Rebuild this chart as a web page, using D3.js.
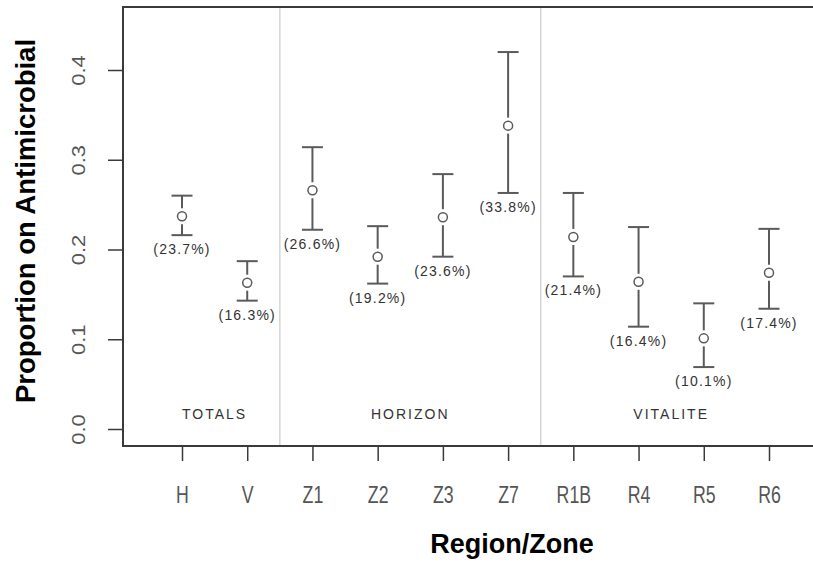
<!DOCTYPE html>
<html>
<head>
<meta charset="utf-8">
<script src="https://cdn.jsdelivr.net/npm/d3@7"></script>
<style>
  body { margin: 0; background: #fff; }
  text { font-family: "Liberation Sans", Arial, sans-serif; }
</style>
</head>
<body>
<div id="plot"></div>
<script>
// data
var zones = ["H", "V", "Z1", "Z2", "Z3", "Z7", "R1B", "R4", "R5", "R6"];
var means = [0.237, 0.163, 0.266, 0.192, 0.236, 0.338, 0.214, 0.164, 0.101, 0.174];
var upper = [0.260, 0.187, 0.314, 0.226, 0.284, 0.420, 0.263, 0.225, 0.140, 0.223];
var lower = [0.216, 0.143, 0.222, 0.162, 0.192, 0.263, 0.170, 0.114, 0.069, 0.134];
var pctLabels = ["(23.7%)", "(16.3%)", "(26.6%)", "(19.2%)", "(23.6%)", "(33.8%)", "(21.4%)", "(16.4%)", "(10.1%)", "(17.4%)"];
var groups = ["TOTALS", "HORIZON", "VITALITE"];
var groupMembers = [["H", "V"], ["Z1", "Z2", "Z3", "Z7"], ["R1B", "R4", "R5", "R6"]];
var yTicks = [0.0, 0.1, 0.2, 0.3, 0.4];

var W = 813, H = 563;
var box = {left: 123, top: 7, right: 830, bottom: 446};

var svg = d3.select("#plot")
            .append("svg")
            .attr("width", W)
            .attr("height", H);

var xScale = d3.scalePoint()
               .domain(zones)
               .range([182, 769]);
var yScale = d3.scaleLinear()
               .domain([0, 0.4])
               .range([429, 70]);

var data = zones.map((z, i) => ({zone: z, mean: means[i], hi: upper[i], lo: lower[i], label: pctLabels[i]}));

// group separators
var seps = [];
for (var g = 0; g < groupMembers.length - 1; g++) {
    var last = groupMembers[g][groupMembers[g].length - 1];
    var next = groupMembers[g + 1][0];
    seps.push((xScale(last) + xScale(next)) / 2);
}
svg.selectAll(".sep")
   .data(seps)
   .enter()
   .append("line")
   .attr("x1", d => d).attr("x2", d => d)
   .attr("y1", box.top).attr("y2", box.bottom)
   .attr("stroke", "#d4d4d4")
   .attr("stroke-width", 1.5);

// box (left, top, bottom)
svg.append("path")
   .attr("d", "M" + box.right + "," + box.top + "H" + box.left + "V" + box.bottom + "H" + box.right)
   .attr("fill", "none")
   .attr("stroke", "#3a3a3a")
   .attr("stroke-width", 2);

// y axis
var yAxis = svg.append("g")
               .attr("transform", "translate(" + box.left + ",0)")
               .call(d3.axisLeft(yScale).tickValues(yTicks).tickSize(15).tickFormat(d3.format(".1f")));
yAxis.select(".domain").remove();
yAxis.selectAll(".tick line").attr("stroke", "#3a3a3a").attr("stroke-width", 1.5);
yAxis.selectAll(".tick text")
     .attr("x", null).attr("dy", null)
     .attr("text-anchor", "middle")
     .attr("fill", "#555")
     .style("font-size", "22px")
     .attr("transform", "translate(-38,0) scale(0.85,1) rotate(-90)");

// x axis
var xAxis = svg.append("g")
               .attr("transform", "translate(0," + box.bottom + ")")
               .call(d3.axisBottom(xScale).tickSize(15));
xAxis.select(".domain").remove();
xAxis.selectAll(".tick line").attr("stroke", "#3a3a3a").attr("stroke-width", 1.5);
xAxis.selectAll(".tick text")
     .attr("y", null).attr("dy", null)
     .attr("fill", "#555")
     .style("font-size", "23px")
     .attr("transform", "translate(0,57) scale(0.77,1)");

// group labels
svg.selectAll(".grp")
   .data(groups)
   .enter()
   .append("text")
   .attr("x", (d, i) => d3.mean(groupMembers[i], z => xScale(z)))
   .attr("y", 419)
   .attr("text-anchor", "middle")
   .attr("fill", "#333")
   .style("font-size", "14px")
   .style("letter-spacing", "2px")
   .text(d => d);

// error bars
var bars = svg.append("g").selectAll(".bar")
              .data(data)
              .enter()
              .append("g")
              .attr("transform", d => "translate(" + xScale(d.zone) + ",0)");
var r = 4.5, gap = 3.5, cap = 10.5;
bars.append("line")
    .attr("y1", d => yScale(d.hi)).attr("y2", d => yScale(d.mean) - r - gap)
    .attr("stroke", "#5a5a5a").attr("stroke-width", 2);
bars.append("line")
    .attr("y1", d => yScale(d.mean) + r + gap).attr("y2", d => yScale(d.lo))
    .attr("stroke", "#5a5a5a").attr("stroke-width", 2);
bars.append("line")
    .attr("x1", -cap).attr("x2", cap)
    .attr("y1", d => yScale(d.hi)).attr("y2", d => yScale(d.hi))
    .attr("stroke", "#5a5a5a").attr("stroke-width", 2);
bars.append("line")
    .attr("x1", -cap).attr("x2", cap)
    .attr("y1", d => yScale(d.lo)).attr("y2", d => yScale(d.lo))
    .attr("stroke", "#5a5a5a").attr("stroke-width", 2);
bars.append("circle")
    .attr("cy", d => yScale(d.mean))
    .attr("r", r)
    .attr("fill", "#fff")
    .attr("stroke", "#5a5a5a")
    .attr("stroke-width", 1.5);
bars.append("text")
    .attr("y", d => yScale(d.lo) + 19)
    .attr("text-anchor", "middle")
    .attr("fill", "#333")
    .style("font-size", "14px")
    .style("letter-spacing", "1.2px")
    .text(d => d.label);

// axis titles
svg.append("text")
   .attr("x", 512).attr("y", 553)
   .attr("text-anchor", "middle")
   .style("font-size", "27px").style("font-weight", "bold")
   .attr("fill", "#000")
   .text("Region/Zone");
svg.append("text")
   .attr("transform", "translate(35,221) rotate(-90)")
   .attr("text-anchor", "middle")
   .style("font-size", "27.5px").style("font-weight", "bold")
   .attr("fill", "#000")
   .text("Proportion on Antimicrobial");
</script>
</body>
</html>
